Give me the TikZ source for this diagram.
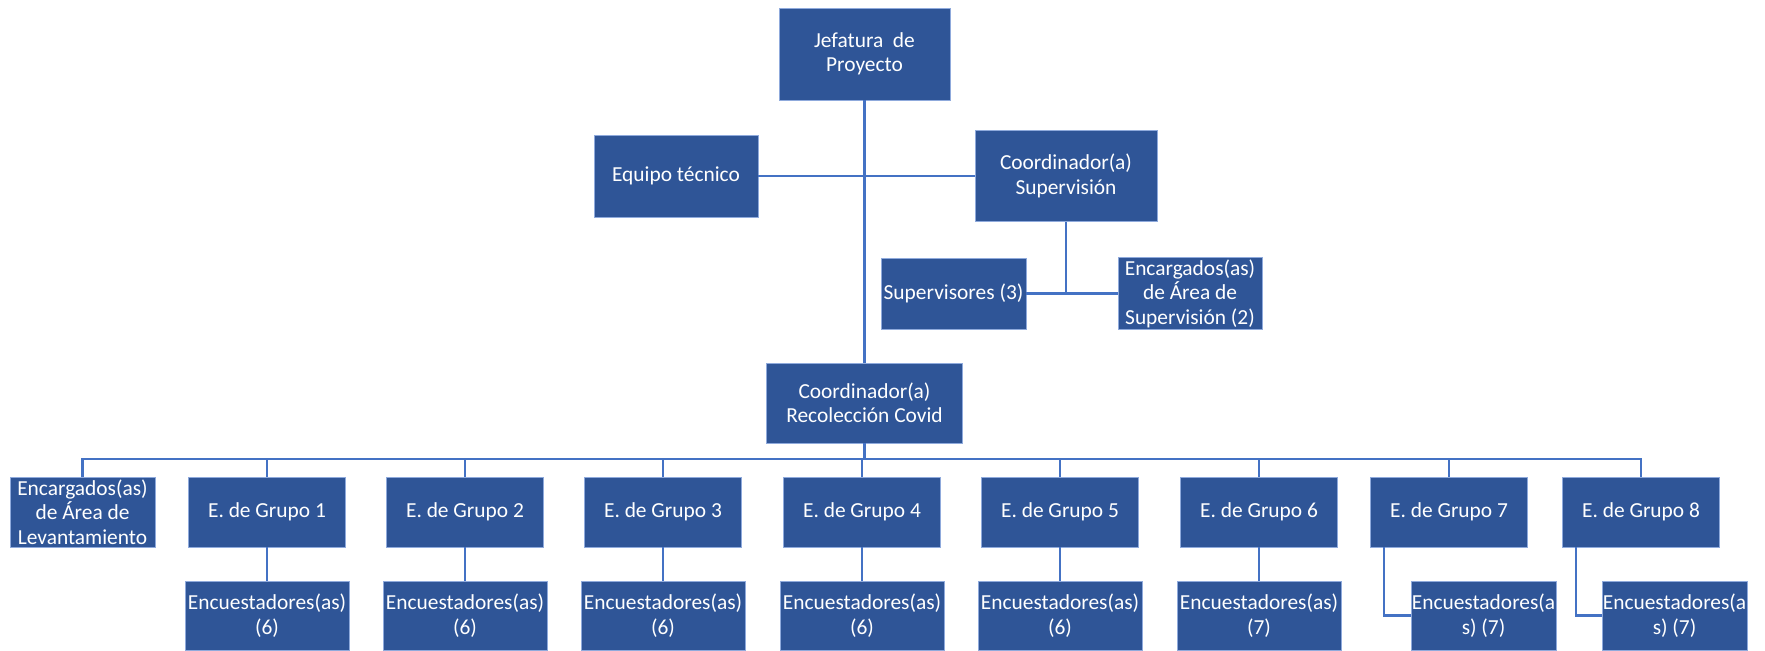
\documentclass[tikz,border=0pt]{standalone}
\usepackage{fontspec}
\setmainfont{Carlito}
\usetikzlibrary{positioning}
\definecolor{boxblue}{RGB}{47,85,151}
\definecolor{lineblue}{RGB}{68,114,196}
\definecolor{edgeblue}{RGB}{143,170,220}

\begin{document}
\begin{tikzpicture}[x=0.5pt,y=-0.5pt,semithick]
\tikzstyle{orgbox}=[fill=boxblue,draw=edgeblue,line width=0.4pt,text=white,align=center,inner xsep=0pt,inner ysep=1pt,font=\fontsize{10.7}{12.2}\selectfont]
\tikzstyle{grupo}=[orgbox,minimum width=78.5pt,minimum height=35pt]
\tikzstyle{encuesta}=[orgbox,minimum width=82pt,minimum height=34.5pt]
\tikzstyle{link}=[draw=lineblue,line width=1.3pt]
\useasboundingbox (0,0) rectangle (1765,650);

% upper levels
\node[orgbox,minimum width=85.5pt,minimum height=46pt] (jefatura) at (864.5,54) {Jefatura\ \ de\\Proyecto};
\node[orgbox,minimum width=82pt,minimum height=41pt] (equipo) at (676,176) {Equipo técnico};
\node[orgbox,minimum width=91pt,minimum height=45.5pt] (coordsup) at (1066,176) {Coordinador(a)\\Supervisión};
\node[orgbox,minimum width=72.5pt,minimum height=35.5pt] (supervisores) at (953.5,293.5) {Supervisores (3)};
\node[orgbox,minimum width=72pt,minimum height=35.5pt] (encsup) at (1190,293.5) {Encargados(as)\\de Área de\\Supervisión (2)};
\node[orgbox,minimum width=98pt,minimum height=40pt] (coordrec) at (864.5,403) {Coordinador(a)\\Recolección Covid};

% groups
\node[orgbox,minimum width=72.5pt,minimum height=35pt] (levant) at (82.5,512) {Encargados(as)\\de Área de\\Levantamiento};
\foreach \i/\x in {1/267,2/465,3/663,4/862,5/1060,6/1259,7/1449,8/1641}
  \node[grupo] (g\i) at (\x,512) {E. de Grupo \i};
\foreach \i/\x/\n in {1/267/6,2/465/6,3/663/6,4/862/6,5/1060/6,6/1259/7}
  \node[encuesta] (enc\i) at (\x,615.5) {Encuestadores(as)\\(\n)};
\node[encuesta,minimum width=72.5pt] (enc7) at (1483.5,615.5) {Encuestadores(a\\s) (7)};
\node[encuesta,minimum width=72.5pt] (enc8) at (1674.5,615.5) {Encuestadores(a\\s) (7)};

% connectors
\coordinate (bus) at (864.5,459);
\draw[link] (jefatura.south) -- (jefatura.south |- coordrec.north);
\draw[link] (equipo) -- (coordsup);
\draw[link] (coordsup.south) -- (coordsup.south |- supervisores.east);
\draw[link] (supervisores) -- (encsup);
\draw[link] (coordrec) -- (bus);
\draw[link] (levant.north) |- (bus) -| (g8.north);
\foreach \i in {1,...,7}
  \draw[link] (g\i.north) -- (g\i.north |- bus);
\foreach \i in {1,...,6}
  \draw[link] (g\i) -- (enc\i);
\draw[link] ([xshift=7pt]g7.south west) |- (enc7);
\draw[link] ([xshift=7pt]g8.south west) |- (enc8);
\end{tikzpicture}
\end{document}
